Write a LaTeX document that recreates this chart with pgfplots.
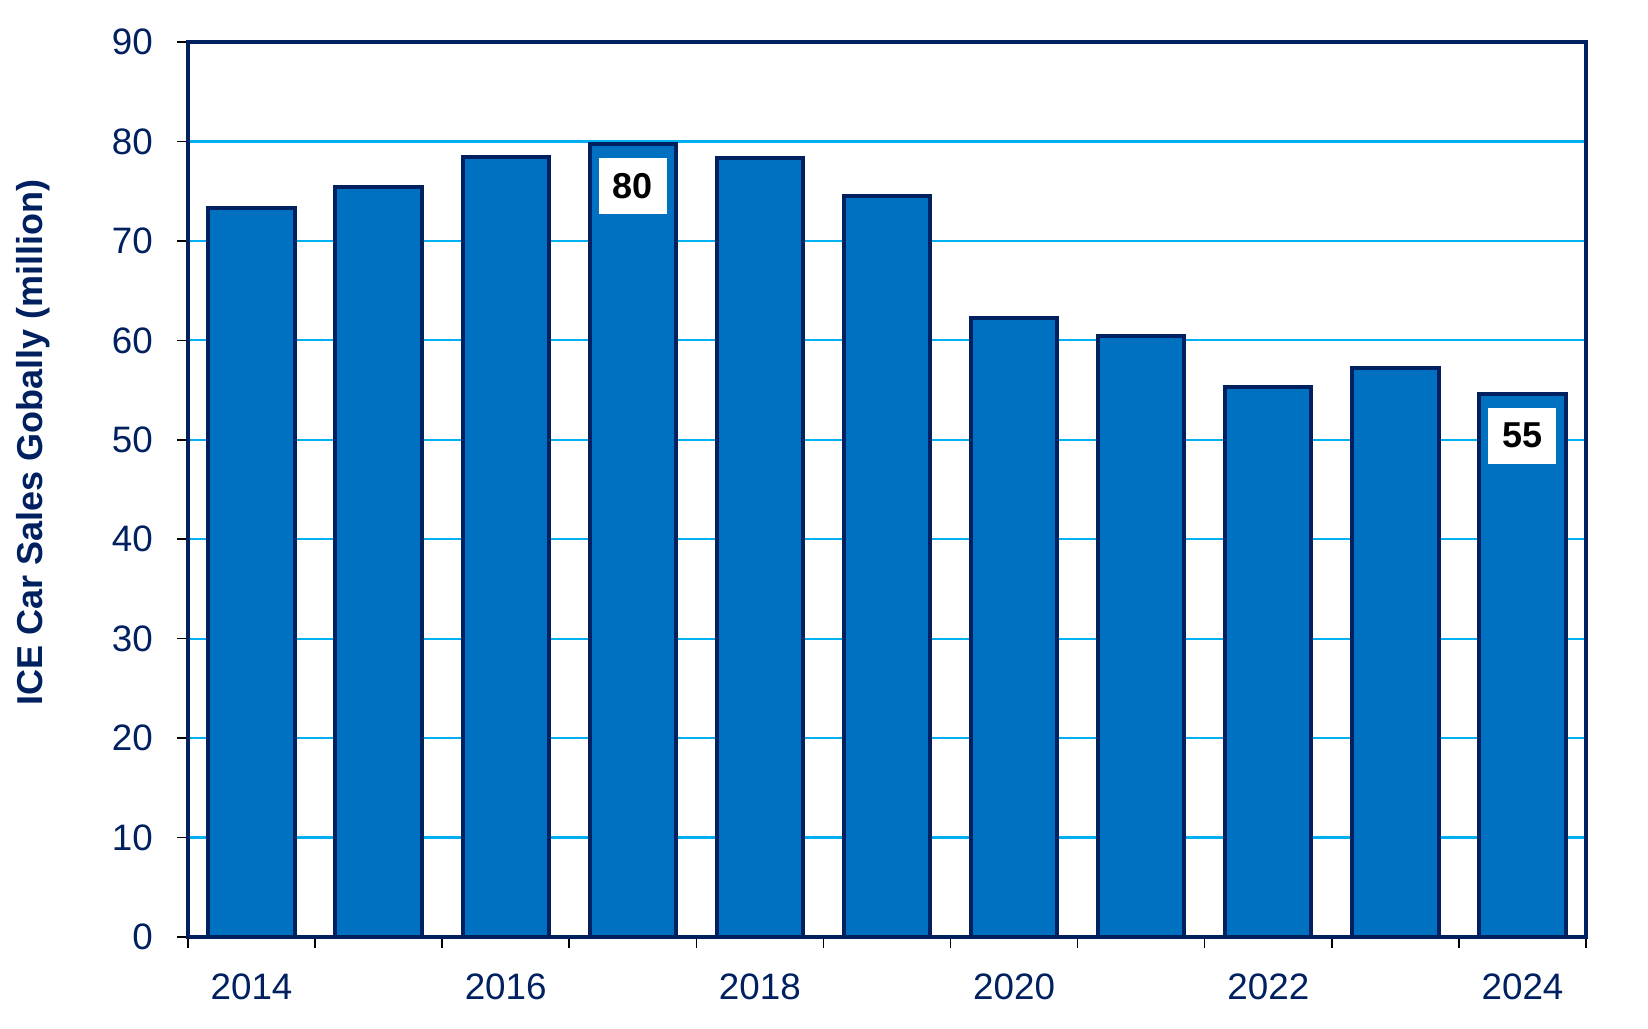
\documentclass[border=0pt]{standalone}
\usepackage{fontspec}
\setmainfont{Liberation Sans}
\usepackage{pgfplots}
\pgfplotsset{compat=1.18}
\definecolor{barfill}{RGB}{0,112,192}
\definecolor{navy}{RGB}{0,32,96}
\definecolor{gridblue}{RGB}{0,176,240}
\begin{document}
\begin{tikzpicture}
\path[use as bounding box] (-47pt,-22.75pt) rectangle (365pt,234.25pt);
\begin{axis}[
  at={(0,0)}, anchor=south west,
  scale only axis,
  width=349.5pt, height=223.75pt,
  xmin=2013.5, xmax=2024.5,
  ymin=0, ymax=90,
  ytick={0,10,...,90},
  xtick={2014,2016,...,2024},
  minor xtick={2013.5,2014.5,...,2024.5},
  xtick pos=bottom, ytick pos=left,
  major x tick style={draw=none},
  xticklabel style={yshift=-3pt},
  xticklabels={2014,2016,2018,2020,2022,2024},
  tick align=outside,
  major tick length=2.75pt,
  minor tick length=2.75pt,
  tick style={black, line width=0.4pt},
  ymajorgrids,
  grid style={gridblue, line width=0.55pt},
  axis line style={navy, line width=1.15pt},
  ticklabel style={font=\fontsize{9.2}{11}\selectfont, text=navy},
  /pgf/number format/assume math mode=true,
  yticklabel style={xshift=-2.5pt},
  ylabel={ICE Car Sales Gobally (million)},
  ylabel style={at={(axis description cs:-0.1109,0.553)}, anchor=center, font=\fontsize{9}{11}\selectfont\bfseries, text=navy},
  bar width=0.68,
  clip=false,
]
\addplot[ybar, fill=barfill, draw=navy, line width=1pt] coordinates {
  (2014,73.3) (2015,75.4) (2016,78.4) (2017,79.7) (2018,78.3) (2019,74.5)
  (2020,62.2) (2021,60.4) (2022,55.3) (2023,57.2) (2024,54.6)
};
\addplot[draw=none, mark=none, nodes near coords, point meta=explicit symbolic,
  nodes near coords style={anchor=north, yshift=-3.2pt, fill=white, text=black,
    font=\fontsize{9}{11}\selectfont\bfseries, minimum width=17pt, minimum height=14pt, inner sep=0pt}]
  coordinates {(2017,79.7)[80] (2024,54.6)[55]};
\end{axis}
\end{tikzpicture}
\end{document}
